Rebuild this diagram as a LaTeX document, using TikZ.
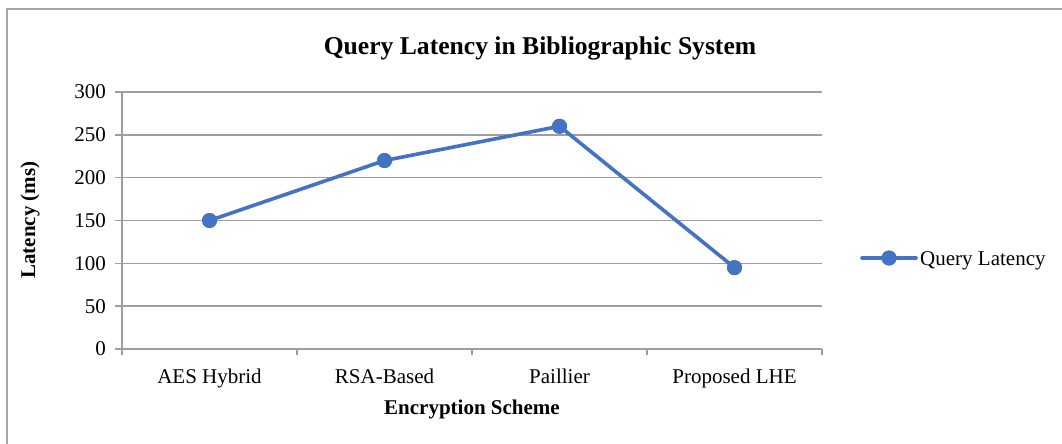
\documentclass[tikz,border=0pt]{standalone}
\usepackage{fontspec}
\setmainfont{Liberation Serif}
\begin{document}
\begin{tikzpicture}[x=1pt,y=-1pt,
  frameline/.style={draw=black!35,line width=2pt},
  gridline/.style={draw=black!38,line width=1.4pt},
  ticklabel/.style={font=\fontsize{21}{25}\selectfont,inner sep=0pt},
  axistitle/.style={font=\fontsize{21}{25}\selectfont\bfseries,inner sep=0pt},
  series/.style={draw=seriesblue,line width=3.6pt,line join=round},
  pt/.style={circle,fill=seriesblue,inner sep=0pt,minimum size=15pt}
]
\definecolor{seriesblue}{HTML}{4472C4}
\useasboundingbox (0,0) rectangle (1062,444);
\fill[white] (0,0) rectangle (1062,444);

% chart frame (only top and left edges fall inside the page)
\draw[frameline] (1070,9) -- (7,9) -- (7,452);

% title
\node[font=\fontsize{25.6}{30}\selectfont\bfseries,inner sep=0pt,anchor=base] (title) at (540,55) {Query Latency in Bibliographic System};

% horizontal gridlines and value labels (0 at y=349, 300 at y=92)
\foreach \v in {0,50,...,300}{
  \pgfmathsetmacro{\yy}{349-\v*0.856667}
  \draw[gridline] (115,\yy) -- (822,\yy);
  \node[ticklabel,anchor=east] (yl\v) at (106,\yy) {\v};
}
% value axis
\draw[gridline] (122,92) -- (122,349);
% category ticks
\foreach \xx in {122,297,472,647,822}{
  \draw[gridline] (\xx,349) -- (\xx,355);
}

% category labels
\node[ticklabel,anchor=base] (c1) at (209.5,383) {AES Hybrid};
\node[ticklabel,anchor=base] (c2) at (384.5,383) {RSA-Based};
\node[ticklabel,anchor=base] (c3) at (559.5,383) {Paillier};
\node[ticklabel,anchor=base] (c4) at (734.5,383) {Proposed LHE};

% axis titles
\node[axistitle,anchor=base] (xtitle) at (472,414) {Encryption Scheme};
\node[axistitle,rotate=90] (ytitle) at (30,220) {Latency (ms)};

% data points
\node[pt] (p1) at (209.5,{349-150*0.856667}) {};
\node[pt] (p2) at (384.5,{349-220*0.856667}) {};
\node[pt] (p3) at (559.5,{349-260*0.856667}) {};
\node[pt] (p4) at (734.5,{349-95*0.856667}) {};
\draw[series] (p1.center) -- (p2.center) -- (p3.center) -- (p4.center);
\foreach \p in {p1,p2,p3,p4}{ \fill[seriesblue] (\p) circle (7.5pt); }

% legend
\coordinate (la) at (862,258);
\coordinate (lb) at (916,258);
\node[pt] (lm) at (889,258) {};
\draw[series,line cap=round] (la) -- (lb);
\fill[seriesblue] (lm) circle (7.5pt);
\node[ticklabel,anchor=base west] (ltext) at (920,265) {Query Latency};
\end{tikzpicture}
\end{document}
